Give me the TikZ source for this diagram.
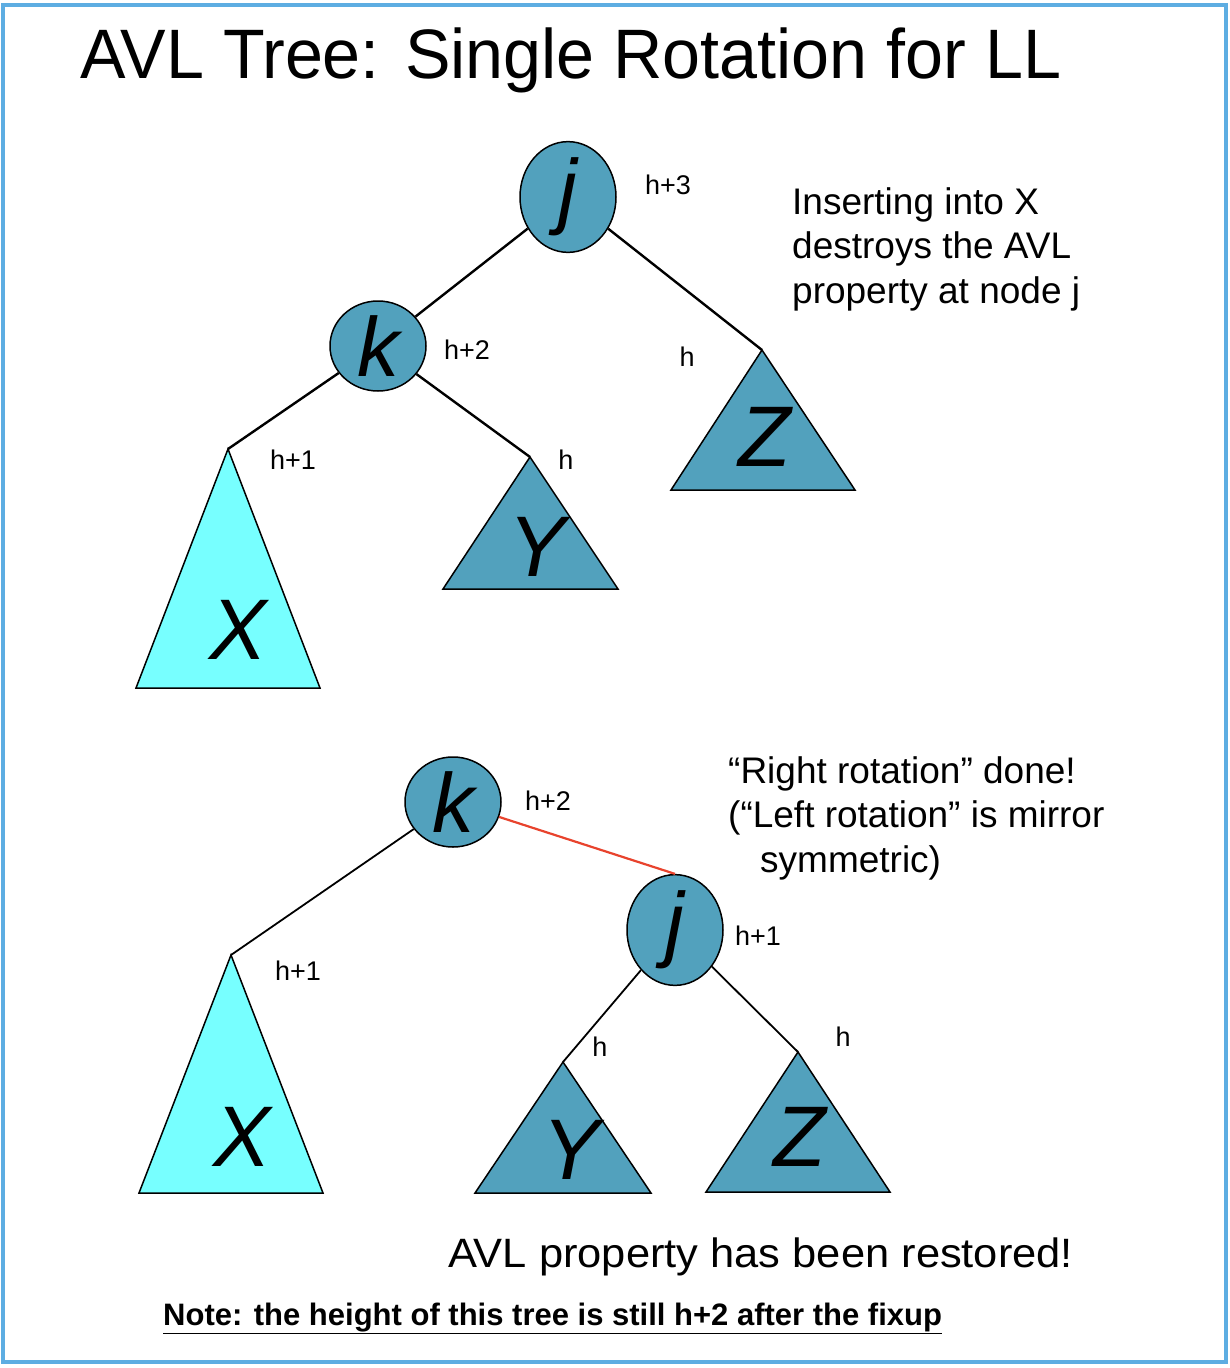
\documentclass[tikz,border=0pt]{standalone}
\usepackage{fontspec}
\setmainfont{Liberation Sans}
\usepackage{graphicx}
\usepackage{tikz}
\usetikzlibrary{shapes.geometric}
\definecolor{nodeblue}{HTML}{52A1BD}
\definecolor{xcyan}{HTML}{77FFFF}
\definecolor{frameblue}{HTML}{5DADE2}
\definecolor{rotred}{HTML}{E8432D}
\tikzstyle{avlnode} = [draw, ellipse, line width=1.5pt, fill=nodeblue, minimum width=96pt, minimum height=90pt, inner sep=0pt, font=\fontsize{84}{84}\selectfont\itshape]
\tikzstyle{edge} = [line width=2.4pt]
\tikzstyle{subtree} = [draw, line width=1.5pt, fill=nodeblue]
\tikzstyle{hlabel} = [inner sep=0pt, font=\fontsize{27}{27}\selectfont]
\tikzstyle{treename} = [inner sep=0pt, font=\fontsize{86}{86}\selectfont\itshape]
\tikzstyle{remark} = [inner sep=0pt, anchor=north west, align=left, font=\fontsize{37}{44.5}\selectfont]

\begin{document}
\begin{tikzpicture}[x=1pt, y=-1pt]
    \useasboundingbox (0,0) rectangle (1230,1368);
    \draw[frameblue, line width=4pt] (3,5) rectangle (1226,1362);

    \node[inner sep=0pt, anchor=base west, font=\fontsize{70}{70}\selectfont] (title) at (80,78)
        {\scalebox{0.975}[1]{AVL Tree: Single Rotation for LL}};

    % before the rotation
    \node[avlnode] (j1) at (568,197) {j};
    \node[avlnode] (k1) at (378,346) {k};
    \coordinate (x1) at (228,449);
    \coordinate (y1) at (530,457);
    \coordinate (z1) at (762,350);
    \draw[subtree, fill=xcyan] (x1) -- (136,688) -- (320,688) -- cycle;
    \draw[subtree] (y1) -- (443,589) -- (618,589) -- cycle;
    \draw[subtree] (z1) -- (671,490) -- (855,490) -- cycle;
    \node[treename] (xname1) at (238,630) {X};
    \node[treename] (yname1) at (537,547) {Y};
    \node[treename] (zname1) at (765,437) {Z};
    \draw[edge] (j1) -- (k1);
    \draw[edge] (j1) -- (z1);
    \draw[edge] (k1) -- (x1);
    \draw[edge] (k1) -- (y1);
    \node[hlabel] (hj1) at (668,185) {h+3};
    \node[hlabel] (hk1) at (467,350) {h+2};
    \node[hlabel] (hx1) at (293,460) {h+1};
    \node[hlabel] (hy1) at (566,460) {h};
    \node[hlabel] (hz1) at (687,357) {h};
    \node[remark] (why) at (792,187)
        {Inserting into X\\destroys the AVL\\property at node j};

    % after the rotation
    \node[avlnode] (k2) at (453,802) {k};
    \node[avlnode] (j2) at (675,930) {j};
    \coordinate (x2) at (231,955);
    \coordinate (y2) at (563,1062);
    \coordinate (z2) at (798,1052);
    \draw[subtree, fill=xcyan] (x2) -- (139,1193) -- (323,1193) -- cycle;
    \draw[subtree] (y2) -- (475,1193) -- (651,1193) -- cycle;
    \draw[subtree] (z2) -- (706,1192) -- (890,1192) -- cycle;
    \node[treename] (xname2) at (242,1137) {X};
    \node[treename] (yname2) at (571,1150) {Y};
    \node[treename] (zname2) at (800,1137) {Z};
    \draw[edge, rotred, line width=2.2pt] (k2) -- (j2.north);
    \draw[edge, line width=1.8pt] (k2) -- (x2);
    \draw[edge, line width=1.8pt] (j2) -- (y2);
    \draw[edge, line width=1.8pt] (j2) -- (z2);
    \node[hlabel] (hk2) at (548,801) {h+2};
    \node[hlabel] (hj2) at (758,936) {h+1};
    \node[hlabel] (hx2) at (298,971) {h+1};
    \node[hlabel] (hy2) at (600,1047) {h};
    \node[hlabel] (hz2) at (843,1037) {h};
    \node[remark] (done) at (728,756)
        {“Right rotation” done!\\(“Left rotation” is mirror\\\hspace*{32pt}symmetric)};

    \node[inner sep=0pt, anchor=base west, font=\fontsize{41}{41}\selectfont] (restored) at (448,1267)
        {\scalebox{1.06}[1]{AVL property has been restored!}};
    \node[inner sep=0pt, anchor=base west, font=\fontsize{31}{31}\selectfont\bfseries] (note) at (163,1325)
        {\underline{Note: the height of this tree is still h+2 after the fixup}};
\end{tikzpicture}
\end{document}
